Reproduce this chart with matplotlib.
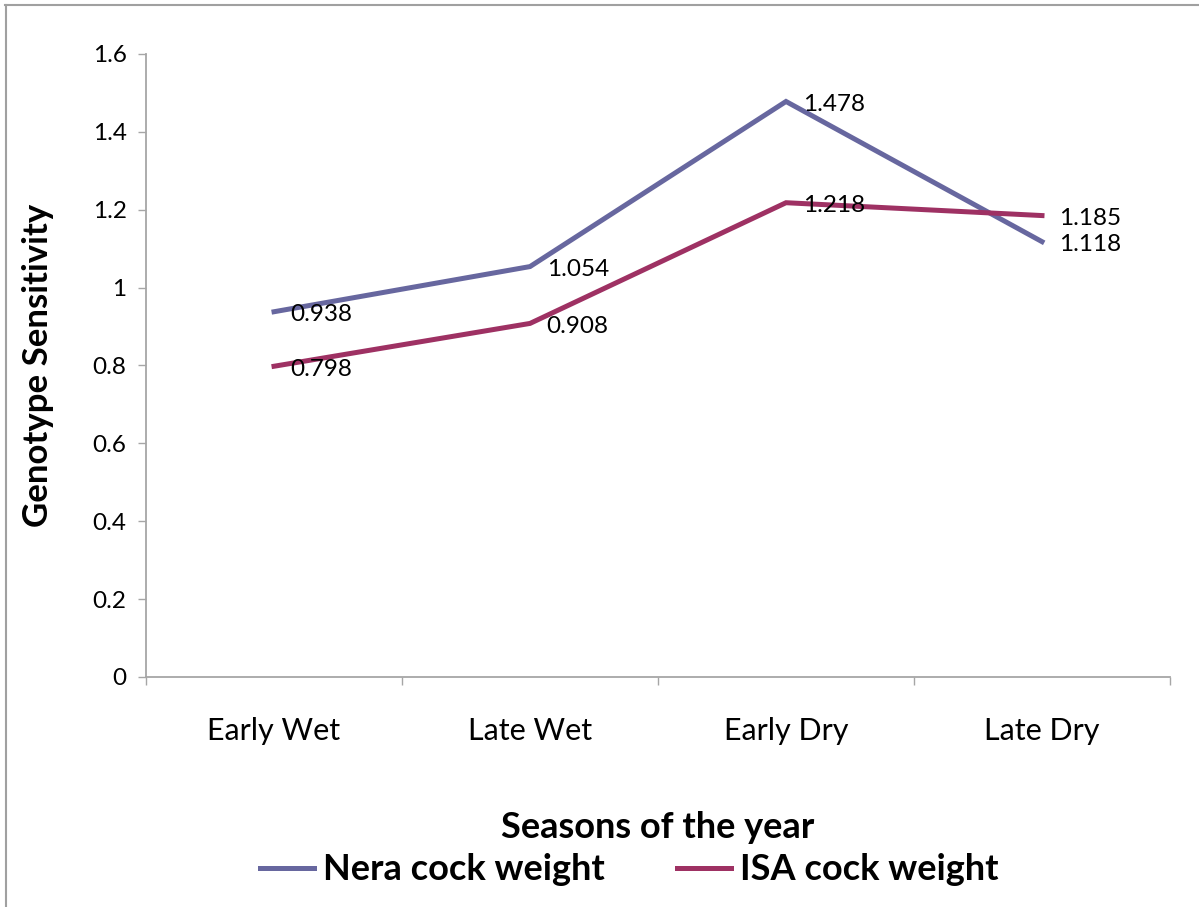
import matplotlib.pyplot as plt
from matplotlib.lines import Line2D

# data
seasons = ["Early Wet", "Late Wet", "Early Dry", "Late Dry"]
nera = [0.938, 1.054, 1.478, 1.118]
isa = [0.798, 0.908, 1.218, 1.185]
y_ticks = [0, 0.2, 0.4, 0.6, 0.8, 1.0, 1.2, 1.4, 1.6]
y_tick_labels = ["0", "0.2", "0.4", "0.6", "0.8", "1", "1.2", "1.4", "1.6"]

nera_color = "#67679F"
isa_color = "#9E3163"
axis_grey = "#A6A6A6"

plt.rcParams["font.family"] = ["Lato", "DejaVu Sans"]

fig = plt.figure(figsize=(11.99, 9.07), dpi=100)
ax = fig.add_axes([0.1218, 0.2536, 0.8540, 0.6869])

x = list(range(len(seasons)))
ax.plot(x, nera, color=nera_color, lw=3.6, solid_joinstyle="miter")
ax.plot(x, isa, color=isa_color, lw=3.6, solid_joinstyle="miter")

# data labels to the right of each point
for xi, v in zip(x, nera):
    ax.annotate(f"{v:.3f}", (xi, v), xytext=(12, -2), textcoords="offset points",
                ha="left", va="center", fontsize=17.5)
for xi, v in zip(x, isa):
    ax.annotate(f"{v:.3f}", (xi, v), xytext=(12, -2), textcoords="offset points",
                ha="left", va="center", fontsize=17.5)

ax.set_xlim(-0.5, 3.5)
ax.set_ylim(0, 1.6)
ax.set_yticks(y_ticks)
ax.set_yticklabels(y_tick_labels)
ax.set_xticks(x)
ax.set_xticklabels(seasons)
ax.set_xticks([i - 0.5 for i in range(len(seasons) + 1)], minor=True)
ax.tick_params(axis="x", which="major", length=0, pad=29, labelsize=22)
ax.tick_params(axis="x", which="minor", length=6, color=axis_grey, width=1)
ax.tick_params(axis="y", length=6, color=axis_grey, width=1, pad=8, labelsize=17.5)

for side in ["top", "right"]:
    ax.spines[side].set_visible(False)
for side in ["left", "bottom"]:
    ax.spines[side].set_color(axis_grey)
    ax.spines[side].set_linewidth(1.3)

ax.set_ylabel("Genotype Sensitivity", fontsize=25, fontweight="bold")
ax.yaxis.set_label_coords(-0.09, 0.5)
ax.set_xlabel("Seasons of the year", fontsize=26, fontweight="bold")
ax.xaxis.set_label_coords(0.5, -0.215)

handles = [Line2D([], [], color=nera_color, lw=3.6),
           Line2D([], [], color=isa_color, lw=3.6)]
fig.legend(handles, ["Nera cock weight", "ISA cock weight"], loc="center",
           bbox_to_anchor=(0.525, 0.041), ncol=2, frameon=False,
           prop={"size": 26, "weight": "bold"}, handlelength=1.5,
           columnspacing=2.0, handletextpad=0.25)

# outer frame lines (top and left)
fig.add_artist(Line2D([0.004, 1.0], [0.994, 0.994], color="#A0A0A0", lw=1.5))
fig.add_artist(Line2D([0.005, 0.005], [0.0, 0.994], color="#A0A0A0", lw=1.5))

fig.savefig("out.png", dpi=100)
